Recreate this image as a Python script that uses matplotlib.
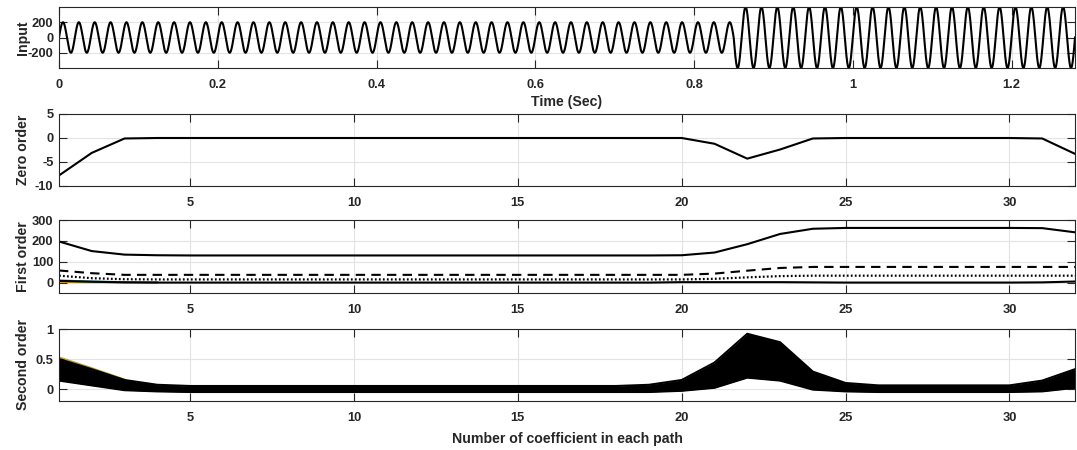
import matplotlib
matplotlib.use("Agg")
import matplotlib.pyplot as plt
from matplotlib.ticker import FuncFormatter
import numpy as np

plt.rcParams["font.family"] = ["Liberation Sans", "DejaVu Sans"]
plt.rcParams["font.weight"] = "bold"
plt.rcParams["axes.unicode_minus"] = False

FIG_W, FIG_H = 1077, 450
LEFT, RIGHT = 59, 1075
# (top, bottom) of every panel in pixels
PANELS = [(7, 68), (114, 186), (220, 293), (329, 401)]
TEXT_COLOR = "#262626"
GRID_COLOR = "#e3e3e3"
TICK_SIZE = 9.3
LABEL_SIZE = 10.2

# input signal: 50 Hz sine whose amplitude steps up at switch_time
input_freq = 50.0
input_amplitude = [200, 400]
switch_time = 0.85
time_end = 1.28

# coefficient index for the three lower panels
coef = list(range(1, 33))

zero_order = [-7.8, -3.1, -0.1, 0, 0, 0, 0, 0, 0, 0, 0, 0, 0, 0, 0, 0,
              0, 0, 0, 0, -1.2, -4.3, -2.4, -0.1, 0, 0, 0, 0, 0, 0,
              -0.1, -3.3]

first_solid = [197, 151, 134, 131, 130, 130, 130, 130, 130, 130, 130, 130,
               130, 130, 130, 130, 130, 130, 130, 131, 144, 184, 233, 258,
               262, 262, 262, 262, 262, 262, 261, 241]
first_dashed = [58, 45, 37, 37, 37, 37, 37, 37, 37, 37, 37, 37, 37, 37, 37,
                37, 37, 37, 37, 37, 43, 57, 70, 75, 75, 75, 75, 75, 75, 75,
                75, 75]
first_dotted = [33, 21, 16, 15, 15, 15, 15, 15, 15, 15, 15, 15, 15, 15, 15,
                15, 15, 15, 15, 15, 18, 25, 31, 33, 33, 33, 33, 33, 33, 33,
                33, 33]
first_bottom = [8, 4, 1, 0, 0, 0, 0, 0, 0, 0, 0, 0, 0, 0, 0, 0, 0, 0, 0, 2,
                2, 2, 2, 1, 0, 0, 0, 0, 0, 0, 1, 5]
first_teal = [10, 5, 2, 1]
first_orange = [2, 1, 0, 0]

second_upper = [0.50, 0.33, 0.15, 0.07, 0.05, 0.05, 0.05, 0.05, 0.05, 0.05,
                0.05, 0.05, 0.05, 0.05, 0.05, 0.05, 0.05, 0.05, 0.07, 0.15,
                0.44, 0.92, 0.78, 0.29, 0.10, 0.06, 0.06, 0.06, 0.06, 0.06,
                0.14, 0.33]
second_lower = [0.14, 0.06, -0.02, -0.04, -0.05, -0.05, -0.05, -0.05, -0.05,
                -0.05, -0.05, -0.05, -0.05, -0.05, -0.05, -0.05, -0.05, -0.05,
                -0.05, -0.03, 0.02, 0.19, 0.14, -0.01, -0.04, -0.05, -0.05,
                -0.05, -0.05, -0.05, -0.04, 0.02]
second_yellow = [0.53, 0.35, 0.16]


def style_axes(ax):
    for sp in ax.spines.values():
        sp.set_color(TEXT_COLOR)
        sp.set_linewidth(0.8)
    ax.tick_params(direction="in", top=True, right=True, length=6,
                   width=0.8, color=TEXT_COLOR, labelcolor=TEXT_COLOR,
                   labelsize=TICK_SIZE)
    ax.tick_params(axis="x", pad=8)
    ax.tick_params(axis="y", pad=4)
    ax.grid(True, color=GRID_COLOR, linewidth=0.8)
    ax.set_axisbelow(True)


def ylabel(ax, text):
    ax.set_ylabel(text, fontsize=LABEL_SIZE, fontweight="bold",
                  color=TEXT_COLOR)
    ax.yaxis.set_label_coords(-0.029, 0.5)


fig = plt.figure(figsize=(FIG_W / 100., FIG_H / 100.), dpi=100)
axes = []
for top, bottom in PANELS:
    rect = [LEFT / float(FIG_W), 1 - bottom / float(FIG_H),
            (RIGHT - LEFT) / float(FIG_W), (bottom - top) / float(FIG_H)]
    axes.append(fig.add_axes(rect))

# input
ax = axes[0]
t = np.linspace(0, time_end, 40000)
amp = np.where(t < switch_time, input_amplitude[0], input_amplitude[1])
ax.plot(t, amp * np.sin(2 * np.pi * input_freq * t), color="k", linewidth=1.5)
ax.set_xlim(0, time_end)
ax.set_ylim(-400, 400)
ax.set_yticks([-200, 0, 200])
ax.set_xticks([0, 0.2, 0.4, 0.6, 0.8, 1.0, 1.2])
ax.xaxis.set_major_formatter(FuncFormatter(lambda v, p: "%g" % v))
ax.set_xlabel("Time (Sec)", fontsize=LABEL_SIZE, fontweight="bold",
              color=TEXT_COLOR, labelpad=3)
ylabel(ax, "Input")

# zero order
ax = axes[1]
ax.plot(coef, zero_order, color="k", linewidth=1.5)
ax.set_ylim(-10, 5)
ax.set_yticks([-10, -5, 0, 5])
ylabel(ax, "Zero order")

# first order
ax = axes[2]
ax.plot(coef[:4], first_orange, color="#d9a02a", linewidth=1.2)
ax.plot(coef[:4], first_teal, color="#2a8c8c", linewidth=1.5)
ax.plot(coef, first_bottom, color="k", linewidth=1.5)
ax.plot(coef, first_solid, color="k", linewidth=1.5)
ax.plot(coef, first_dashed, color="k", linewidth=1.5, dashes=(4.5, 3.0))
ax.plot(coef, first_dotted, color="k", linewidth=1.6, dashes=(0.8, 1.0))
ax.set_ylim(-50, 300)
ax.set_yticks([0, 100, 200, 300])
ylabel(ax, "First order")

# second order
ax = axes[3]
ax.plot(coef[:3], second_yellow, color="#b8a22a", linewidth=1.2)
ax.fill_between(coef, second_lower, second_upper, color="k", linewidth=0)
ax.plot(coef, second_upper, color="k", linewidth=1.5)
ax.plot(coef, second_lower, color="k", linewidth=1.5)
ax.set_ylim(-0.2, 1)
ax.set_yticks([0, 0.5, 1])
ax.set_yticklabels(["0", "0.5", "1"])
ax.set_xlabel("Number of coefficient in each path", fontsize=LABEL_SIZE,
              fontweight="bold", color=TEXT_COLOR, labelpad=6)
ylabel(ax, "Second order")

for ax in axes[1:]:
    ax.set_xlim(1, 32)
    ax.set_xticks([5, 10, 15, 20, 25, 30])

for ax in axes:
    style_axes(ax)

fig.savefig("out.png", dpi=100)
